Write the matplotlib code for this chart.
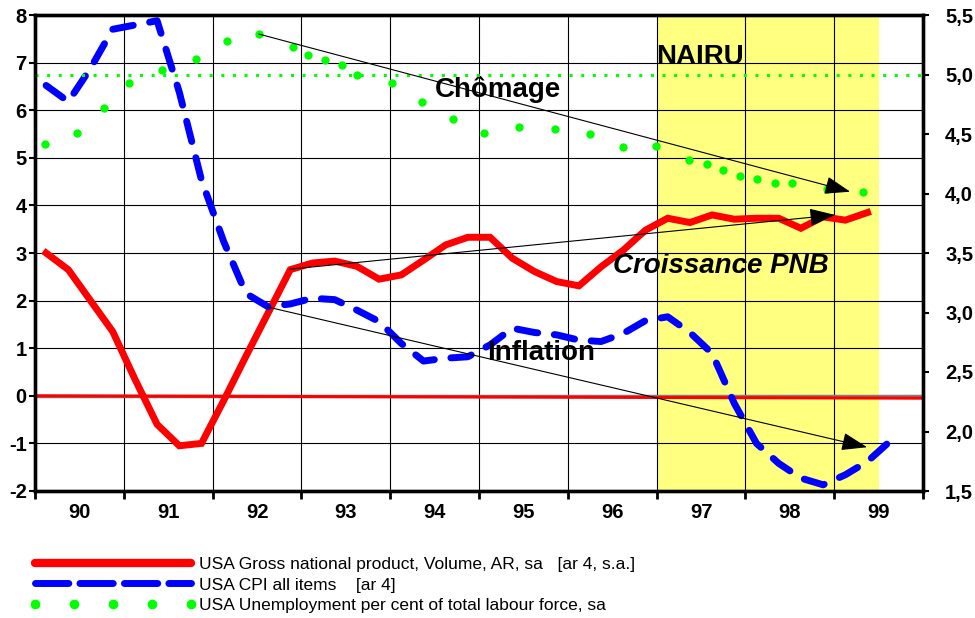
import numpy as np
import matplotlib
matplotlib.use('Agg')
import matplotlib.pyplot as plt
from matplotlib.lines import Line2D

plt.rcParams['font.family'] = ['Liberation Sans', 'DejaVu Sans']

# Quarterly series, 1990Q1 ..
gnp = [3.0, 2.65, 2.0, 1.35, 0.35, -0.6, -1.05, -1.0, -0.1, 0.83, 1.74, 2.65,
       2.79, 2.83, 2.72, 2.45, 2.54, 2.85, 3.17, 3.33, 3.33, 2.89, 2.61, 2.40,
       2.31, 2.71, 3.06, 3.48, 3.73, 3.64, 3.80, 3.71, 3.73, 3.73, 3.52, 3.76,
       3.69, 3.85]
cpi = [6.52, 6.18, 6.88, 7.70, 7.79, 7.88, 6.38, 4.53, 3.24, 2.15, 1.87, 1.93,
       2.05, 2.02, 1.80, 1.56, 1.10, 0.73, 0.79, 0.82, 1.07, 1.42, 1.33, 1.28,
       1.17, 1.14, 1.31, 1.58, 1.66, 1.33, 0.89, -0.16, -1.0, -1.42, -1.73, -1.87,
       -1.66, -1.38, -0.96]

# Unemployment (right axis), irregular dates
unemp_x = [1990.11, 1990.47, 1990.78, 1991.06, 1991.43, 1991.81, 1992.16, 1992.52,
           1992.91, 1993.07, 1993.27, 1993.46, 1993.63, 1994.02, 1994.36, 1994.71,
           1995.06, 1995.45, 1995.86, 1996.25, 1996.62, 1996.99, 1997.36, 1997.57,
           1997.75, 1997.94, 1998.13, 1998.33, 1998.52, 1998.92, 1999.32]
unemp = [4.42, 4.51, 4.72, 4.93, 5.04, 5.13, 5.28, 5.34, 5.23, 5.16, 5.12, 5.08,
         5.00, 4.93, 4.77, 4.63, 4.51, 4.56, 4.54, 4.50, 4.39, 4.40, 4.28, 4.25,
         4.20, 4.15, 4.12, 4.09, 4.09, 4.04, 4.01]
nairu = 5.0

years = list(range(1990, 2001))
year_labels = ['90', '91', '92', '93', '94', '95', '96', '97', '98', '99']
zero_line = [0.0, -0.05]
shade = (1997, 1999.5)

# trend arrows: (x0, y0, x1, y1)
arrow_chomage = (1992.52, 5.34, 1999.18, 4.015)
arrow_pnb = (1992.87, 2.66, 1999.01, 3.80)
arrow_infl = (1992.61, 1.87, 1999.37, -1.08)

labels = ['USA Gross national product, Volume, AR, sa   [ar 4, s.a.]',
          'USA CPI all items    [ar 4]',
          'USA Unemployment per cent of total labour force, sa']

RED = '#FF0000'
BLUE = '#0000FF'
GREEN = '#00FF00'

fig = plt.figure(figsize=(9.75, 6.18), dpi=100)
ax = fig.add_axes([35 / 975, 1 - 491 / 618, 888 / 975, 476 / 618])
ax.set_xlim(1990, 2000)
ax.set_ylim(-2, 8)

qx = 1990 + (np.arange(len(cpi)) + 0.5) / 4

ax.axvspan(shade[0], shade[1], color='#FFFF80', zorder=0, lw=0)
ax.axhline(0, color='#808080', lw=2.5, zorder=1.5)
ax.plot([1990, 2000], zero_line, color=RED, lw=2.2, zorder=2)

ax.plot(qx[:len(gnp)], gnp, color=RED, lw=5, solid_joinstyle='miter', zorder=3)
ax.plot(qx, cpi, color=BLUE, lw=5, dashes=(3.0, 2.4), dash_capstyle='round', zorder=3)

# grid / ticks
ax.set_xticks(years)
ax.set_xticklabels([])
ax.set_xticks([y + 0.5 for y in years[:-1]], minor=True)
ax.set_xticklabels(year_labels, minor=True, fontsize=14.5, fontweight='bold')
ax.tick_params(axis='x', which='major', length=6, width=2, direction='out')
ax.tick_params(axis='x', which='minor', length=0, pad=9)
ax.set_yticks(range(-2, 9))
ax.set_yticklabels([str(v) for v in range(-2, 9)], fontsize=14.5, fontweight='bold')
ax.tick_params(axis='y', length=4, width=1.5, pad=2)
ax.grid(True, which='major', color='black', lw=0.8)
ax.set_axisbelow(True)
for s in ax.spines.values():
    s.set_linewidth(2.4)

ax2 = ax.twinx()
ax2.set_ylim(1.5, 5.5)
ax2.axhline(nairu, color=GREEN, lw=2.2, dashes=(1, 2.8))
ax2.plot(unemp_x, unemp, linestyle='none', marker='o', markersize=6,
         color=GREEN, markeredgewidth=0)
rt = np.arange(1.5, 5.51, 0.5)
ax2.set_yticks(rt)
ax2.set_yticklabels([f'{v:.1f}'.replace('.', ',') for v in rt], fontsize=14.5, fontweight='bold')
ax2.tick_params(axis='y', length=4, width=1.5, pad=12)
for s in ax2.spines.values():
    s.set_linewidth(2.4)

arrow_kw = dict(arrowstyle='-|>,head_length=0.8,head_width=0.28', mutation_scale=20,
                color='black', lw=0.8, shrinkA=0, shrinkB=0)
ax2.annotate('', xy=arrow_chomage[2:], xytext=arrow_chomage[:2], arrowprops=arrow_kw)
ax.annotate('', xy=arrow_pnb[2:], xytext=arrow_pnb[:2], arrowprops=arrow_kw, zorder=4)
ax.annotate('', xy=arrow_infl[2:], xytext=arrow_infl[:2], arrowprops=arrow_kw, zorder=4)

# annotations
ax.text(1997.0, 7.12, 'NAIRU', fontsize=20, fontweight='bold', ha='left', va='center', zorder=5)
ax.text(1995.21, 6.28, 'Chômage', fontsize=20, fontweight='bold', ha='center', va='baseline', zorder=5)
ax.text(1996.51, 2.57, 'Croissance PNB', fontsize=20, fontweight='bold', style='italic',
        ha='left', va='baseline', zorder=5)
ax.text(1995.09, 0.75, 'Inflation', fontsize=20, fontweight='bold', ha='left', va='baseline', zorder=5)

# legend
handles = [Line2D([], [], color=RED, lw=6, solid_capstyle='round'),
           Line2D([], [], color=BLUE, lw=5, dashes=(4.8, 1.6), dash_capstyle='round'),
           Line2D([], [], color=GREEN, linestyle='none', marker='o', markersize=7,
                  markeredgewidth=0)]
fig.legend(handles, labels, loc='upper left', bbox_to_anchor=(30 / 975, 1 - 557 / 618),
           frameon=False, fontsize=12.5, handlelength=9.6, handletextpad=0.15,
           labelspacing=0.3, borderpad=0, borderaxespad=0, numpoints=5)

fig.savefig('out.png', dpi=100)
